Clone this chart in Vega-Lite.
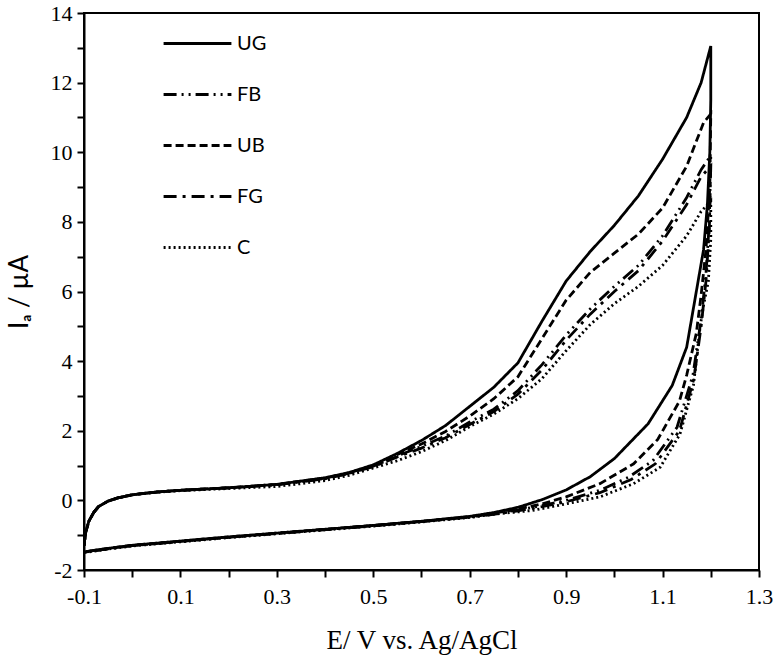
{
  "$schema": "https://vega.github.io/schema/vega-lite/v6.json",
  "width": 675,
  "height": 557,
  "autosize": {"type": "none"},
  "padding": {"left": 84, "top": 13, "right": 15, "bottom": 92},
  "background": "white",
  "config": {
    "view": {"stroke": "black", "strokeWidth": 2},
    "axis": {"grid": false, "domainColor": "black", "domainWidth": 2, "tickColor": "black", "tickWidth": 2, "tickSize": 7, "labelColor": "black", "titleColor": "black", "labelFont": "Liberation Serif", "labelFontSize": 22, "titleFontWeight": "normal"}
  },
  "datasets": {
    "cv": [
      {"s":"UG","i":0,"E":-0.1,"I":-1.3},{"s":"UG","i":1,"E":-0.097,"I":-0.95},{"s":"UG","i":2,"E":-0.09,"I":-0.6},{"s":"UG","i":3,"E":-0.08,"I":-0.35},{"s":"UG","i":4,"E":-0.07,"I":-0.18},{"s":"UG","i":5,"E":-0.05,"I":-0.02},{"s":"UG","i":6,"E":-0.03,"I":0.07},{"s":"UG","i":7,"E":0.0,"I":0.16},{"s":"UG","i":8,"E":0.05,"I":0.24},{"s":"UG","i":9,"E":0.1,"I":0.29},{"s":"UG","i":10,"E":0.2,"I":0.36},{"s":"UG","i":11,"E":0.3,"I":0.46},{"s":"UG","i":12,"E":0.4,"I":0.65},{"s":"UG","i":13,"E":0.45,"I":0.8},{"s":"UG","i":14,"E":0.5,"I":1.02},{"s":"UG","i":15,"E":0.55,"I":1.35},{"s":"UG","i":16,"E":0.6,"I":1.72},{"s":"UG","i":17,"E":0.65,"I":2.15},{"s":"UG","i":18,"E":0.7,"I":2.7},{"s":"UG","i":19,"E":0.75,"I":3.25},{"s":"UG","i":20,"E":0.8,"I":3.95},{"s":"UG","i":21,"E":0.85,"I":5.15},{"s":"UG","i":22,"E":0.9,"I":6.3},{"s":"UG","i":23,"E":0.95,"I":7.15},{"s":"UG","i":24,"E":1.0,"I":7.9},{"s":"UG","i":25,"E":1.05,"I":8.75},{"s":"UG","i":26,"E":1.1,"I":9.8},{"s":"UG","i":27,"E":1.15,"I":11.0},{"s":"UG","i":28,"E":1.18,"I":12.0},{"s":"UG","i":29,"E":1.2,"I":13.05},{"s":"UG","i":30,"E":1.2,"I":11.5},{"s":"UG","i":31,"E":1.198,"I":10.0},{"s":"UG","i":32,"E":1.193,"I":8.5},{"s":"UG","i":33,"E":1.185,"I":7.2},{"s":"UG","i":34,"E":1.175,"I":6.4},{"s":"UG","i":35,"E":1.165,"I":5.6},{"s":"UG","i":36,"E":1.15,"I":4.4},{"s":"UG","i":37,"E":1.12,"I":3.3},{"s":"UG","i":38,"E":1.07,"I":2.2},{"s":"UG","i":39,"E":1.0,"I":1.2},{"s":"UG","i":40,"E":0.95,"I":0.68},{"s":"UG","i":41,"E":0.9,"I":0.3},{"s":"UG","i":42,"E":0.85,"I":0.02},{"s":"UG","i":43,"E":0.8,"I":-0.2},{"s":"UG","i":44,"E":0.75,"I":-0.35},{"s":"UG","i":45,"E":0.7,"I":-0.46},{"s":"UG","i":46,"E":0.6,"I":-0.6},{"s":"UG","i":47,"E":0.5,"I":-0.72},{"s":"UG","i":48,"E":0.4,"I":-0.83},{"s":"UG","i":49,"E":0.3,"I":-0.94},{"s":"UG","i":50,"E":0.2,"I":-1.05},{"s":"UG","i":51,"E":0.1,"I":-1.17},{"s":"UG","i":52,"E":0.0,"I":-1.29},{"s":"UG","i":53,"E":-0.05,"I":-1.38},{"s":"UG","i":54,"E":-0.1,"I":-1.48},

      {"s":"UB","i":0,"E":-0.1,"I":-1.3},{"s":"UB","i":1,"E":-0.097,"I":-0.95},{"s":"UB","i":2,"E":-0.09,"I":-0.6},{"s":"UB","i":3,"E":-0.08,"I":-0.35},{"s":"UB","i":4,"E":-0.07,"I":-0.18},{"s":"UB","i":5,"E":-0.05,"I":-0.02},{"s":"UB","i":6,"E":-0.03,"I":0.07},{"s":"UB","i":7,"E":0.0,"I":0.16},{"s":"UB","i":8,"E":0.05,"I":0.24},{"s":"UB","i":9,"E":0.1,"I":0.29},{"s":"UB","i":10,"E":0.2,"I":0.36},{"s":"UB","i":11,"E":0.3,"I":0.46},{"s":"UB","i":12,"E":0.4,"I":0.64},{"s":"UB","i":13,"E":0.45,"I":0.79},{"s":"UB","i":14,"E":0.5,"I":1.0},{"s":"UB","i":15,"E":0.55,"I":1.32},{"s":"UB","i":16,"E":0.6,"I":1.62},{"s":"UB","i":17,"E":0.65,"I":1.98},{"s":"UB","i":18,"E":0.7,"I":2.42},{"s":"UB","i":19,"E":0.75,"I":2.92},{"s":"UB","i":20,"E":0.8,"I":3.55},{"s":"UB","i":21,"E":0.85,"I":4.65},{"s":"UB","i":22,"E":0.9,"I":5.75},{"s":"UB","i":23,"E":0.95,"I":6.55},{"s":"UB","i":24,"E":1.0,"I":7.1},{"s":"UB","i":25,"E":1.05,"I":7.65},{"s":"UB","i":26,"E":1.1,"I":8.4},{"s":"UB","i":27,"E":1.15,"I":9.6},{"s":"UB","i":28,"E":1.185,"I":10.85},{"s":"UB","i":29,"E":1.2,"I":11.1},{"s":"UB","i":30,"E":1.198,"I":9.0},{"s":"UB","i":31,"E":1.19,"I":7.2},{"s":"UB","i":32,"E":1.18,"I":5.9},{"s":"UB","i":33,"E":1.17,"I":4.8},{"s":"UB","i":34,"E":1.15,"I":3.6},{"s":"UB","i":35,"E":1.135,"I":2.85},{"s":"UB","i":36,"E":1.09,"I":1.75},{"s":"UB","i":37,"E":1.04,"I":1.05},{"s":"UB","i":38,"E":0.97,"I":0.48},{"s":"UB","i":39,"E":0.9,"I":0.1},{"s":"UB","i":40,"E":0.85,"I":-0.1},{"s":"UB","i":41,"E":0.8,"I":-0.25},{"s":"UB","i":42,"E":0.75,"I":-0.37},{"s":"UB","i":43,"E":0.7,"I":-0.47},{"s":"UB","i":44,"E":0.6,"I":-0.6},{"s":"UB","i":45,"E":0.5,"I":-0.72},{"s":"UB","i":46,"E":0.4,"I":-0.83},{"s":"UB","i":47,"E":0.3,"I":-0.94},{"s":"UB","i":48,"E":0.2,"I":-1.05},{"s":"UB","i":49,"E":0.1,"I":-1.17},{"s":"UB","i":50,"E":0.0,"I":-1.29},{"s":"UB","i":51,"E":-0.05,"I":-1.38},{"s":"UB","i":52,"E":-0.1,"I":-1.48},

      {"s":"FB","i":0,"E":-0.1,"I":-1.3},{"s":"FB","i":1,"E":-0.097,"I":-0.95},{"s":"FB","i":2,"E":-0.09,"I":-0.6},{"s":"FB","i":3,"E":-0.08,"I":-0.35},{"s":"FB","i":4,"E":-0.07,"I":-0.18},{"s":"FB","i":5,"E":-0.05,"I":-0.02},{"s":"FB","i":6,"E":-0.03,"I":0.07},{"s":"FB","i":7,"E":0.0,"I":0.16},{"s":"FB","i":8,"E":0.05,"I":0.24},{"s":"FB","i":9,"E":0.1,"I":0.29},{"s":"FB","i":10,"E":0.2,"I":0.36},{"s":"FB","i":11,"E":0.3,"I":0.45},{"s":"FB","i":12,"E":0.4,"I":0.63},{"s":"FB","i":13,"E":0.45,"I":0.78},{"s":"FB","i":14,"E":0.5,"I":0.98},{"s":"FB","i":15,"E":0.55,"I":1.28},{"s":"FB","i":16,"E":0.6,"I":1.55},{"s":"FB","i":17,"E":0.65,"I":1.85},{"s":"FB","i":18,"E":0.7,"I":2.25},{"s":"FB","i":19,"E":0.75,"I":2.62},{"s":"FB","i":20,"E":0.8,"I":3.15},{"s":"FB","i":21,"E":0.85,"I":3.9},{"s":"FB","i":22,"E":0.9,"I":4.75},{"s":"FB","i":23,"E":0.95,"I":5.5},{"s":"FB","i":24,"E":1.0,"I":6.15},{"s":"FB","i":25,"E":1.05,"I":6.75},{"s":"FB","i":26,"E":1.1,"I":7.6},{"s":"FB","i":27,"E":1.15,"I":8.7},{"s":"FB","i":28,"E":1.18,"I":9.5},{"s":"FB","i":29,"E":1.2,"I":9.9},{"s":"FB","i":30,"E":1.197,"I":8.0},{"s":"FB","i":31,"E":1.19,"I":6.5},{"s":"FB","i":32,"E":1.18,"I":5.2},{"s":"FB","i":33,"E":1.163,"I":3.6},{"s":"FB","i":34,"E":1.13,"I":2.1},{"s":"FB","i":35,"E":1.08,"I":1.14},{"s":"FB","i":36,"E":1.03,"I":0.67},{"s":"FB","i":37,"E":0.97,"I":0.29},{"s":"FB","i":38,"E":0.9,"I":0.0},{"s":"FB","i":39,"E":0.85,"I":-0.15},{"s":"FB","i":40,"E":0.8,"I":-0.28},{"s":"FB","i":41,"E":0.75,"I":-0.38},{"s":"FB","i":42,"E":0.7,"I":-0.48},{"s":"FB","i":43,"E":0.6,"I":-0.61},{"s":"FB","i":44,"E":0.5,"I":-0.73},{"s":"FB","i":45,"E":0.4,"I":-0.84},{"s":"FB","i":46,"E":0.3,"I":-0.95},{"s":"FB","i":47,"E":0.2,"I":-1.06},{"s":"FB","i":48,"E":0.1,"I":-1.18},{"s":"FB","i":49,"E":0.0,"I":-1.3},{"s":"FB","i":50,"E":-0.05,"I":-1.39},{"s":"FB","i":51,"E":-0.1,"I":-1.49},

      {"s":"FG","i":0,"E":-0.1,"I":-1.3},{"s":"FG","i":1,"E":-0.097,"I":-0.95},{"s":"FG","i":2,"E":-0.09,"I":-0.6},{"s":"FG","i":3,"E":-0.08,"I":-0.35},{"s":"FG","i":4,"E":-0.07,"I":-0.18},{"s":"FG","i":5,"E":-0.05,"I":-0.02},{"s":"FG","i":6,"E":-0.03,"I":0.07},{"s":"FG","i":7,"E":0.0,"I":0.16},{"s":"FG","i":8,"E":0.05,"I":0.24},{"s":"FG","i":9,"E":0.1,"I":0.29},{"s":"FG","i":10,"E":0.2,"I":0.36},{"s":"FG","i":11,"E":0.3,"I":0.45},{"s":"FG","i":12,"E":0.4,"I":0.62},{"s":"FG","i":13,"E":0.45,"I":0.77},{"s":"FG","i":14,"E":0.5,"I":0.97},{"s":"FG","i":15,"E":0.55,"I":1.25},{"s":"FG","i":16,"E":0.6,"I":1.5},{"s":"FG","i":17,"E":0.65,"I":1.8},{"s":"FG","i":18,"E":0.7,"I":2.18},{"s":"FG","i":19,"E":0.75,"I":2.55},{"s":"FG","i":20,"E":0.8,"I":3.05},{"s":"FG","i":21,"E":0.85,"I":3.75},{"s":"FG","i":22,"E":0.9,"I":4.6},{"s":"FG","i":23,"E":0.95,"I":5.35},{"s":"FG","i":24,"E":1.0,"I":6.0},{"s":"FG","i":25,"E":1.05,"I":6.6},{"s":"FG","i":26,"E":1.1,"I":7.45},{"s":"FG","i":27,"E":1.15,"I":8.5},{"s":"FG","i":28,"E":1.18,"I":9.3},{"s":"FG","i":29,"E":1.2,"I":9.6},{"s":"FG","i":30,"E":1.197,"I":7.8},{"s":"FG","i":31,"E":1.19,"I":6.3},{"s":"FG","i":32,"E":1.18,"I":5.0},{"s":"FG","i":33,"E":1.165,"I":3.5},{"s":"FG","i":34,"E":1.135,"I":2.0},{"s":"FG","i":35,"E":1.085,"I":1.05},{"s":"FG","i":36,"E":1.035,"I":0.6},{"s":"FG","i":37,"E":0.97,"I":0.22},{"s":"FG","i":38,"E":0.9,"I":-0.04},{"s":"FG","i":39,"E":0.85,"I":-0.18},{"s":"FG","i":40,"E":0.8,"I":-0.3},{"s":"FG","i":41,"E":0.75,"I":-0.4},{"s":"FG","i":42,"E":0.7,"I":-0.48},{"s":"FG","i":43,"E":0.6,"I":-0.61},{"s":"FG","i":44,"E":0.5,"I":-0.73},{"s":"FG","i":45,"E":0.4,"I":-0.84},{"s":"FG","i":46,"E":0.3,"I":-0.95},{"s":"FG","i":47,"E":0.2,"I":-1.06},{"s":"FG","i":48,"E":0.1,"I":-1.18},{"s":"FG","i":49,"E":0.0,"I":-1.3},{"s":"FG","i":50,"E":-0.05,"I":-1.39},{"s":"FG","i":51,"E":-0.1,"I":-1.49},

      {"s":"C","i":0,"E":-0.1,"I":-1.3},{"s":"C","i":1,"E":-0.097,"I":-0.95},{"s":"C","i":2,"E":-0.09,"I":-0.6},{"s":"C","i":3,"E":-0.08,"I":-0.35},{"s":"C","i":4,"E":-0.07,"I":-0.18},{"s":"C","i":5,"E":-0.05,"I":-0.02},{"s":"C","i":6,"E":-0.03,"I":0.07},{"s":"C","i":7,"E":0.0,"I":0.16},{"s":"C","i":8,"E":0.05,"I":0.23},{"s":"C","i":9,"E":0.1,"I":0.28},{"s":"C","i":10,"E":0.2,"I":0.34},{"s":"C","i":11,"E":0.3,"I":0.4},{"s":"C","i":12,"E":0.35,"I":0.48},{"s":"C","i":13,"E":0.4,"I":0.57},{"s":"C","i":14,"E":0.45,"I":0.72},{"s":"C","i":15,"E":0.5,"I":0.93},{"s":"C","i":16,"E":0.55,"I":1.14},{"s":"C","i":17,"E":0.6,"I":1.4},{"s":"C","i":18,"E":0.65,"I":1.72},{"s":"C","i":19,"E":0.7,"I":2.12},{"s":"C","i":20,"E":0.75,"I":2.48},{"s":"C","i":21,"E":0.8,"I":2.92},{"s":"C","i":22,"E":0.85,"I":3.5},{"s":"C","i":23,"E":0.9,"I":4.3},{"s":"C","i":24,"E":0.95,"I":5.05},{"s":"C","i":25,"E":1.0,"I":5.65},{"s":"C","i":26,"E":1.05,"I":6.15},{"s":"C","i":27,"E":1.1,"I":6.75},{"s":"C","i":28,"E":1.15,"I":7.6},{"s":"C","i":29,"E":1.18,"I":8.3},{"s":"C","i":30,"E":1.2,"I":8.6},{"s":"C","i":31,"E":1.2,"I":7.5},{"s":"C","i":32,"E":1.195,"I":6.3},{"s":"C","i":33,"E":1.185,"I":5.6},{"s":"C","i":34,"E":1.178,"I":5.0},{"s":"C","i":35,"E":1.164,"I":3.3},{"s":"C","i":36,"E":1.136,"I":1.9},{"s":"C","i":37,"E":1.095,"I":0.95},{"s":"C","i":38,"E":1.04,"I":0.48},{"s":"C","i":39,"E":0.97,"I":0.1},{"s":"C","i":40,"E":0.9,"I":-0.1},{"s":"C","i":41,"E":0.83,"I":-0.29},{"s":"C","i":42,"E":0.75,"I":-0.4},{"s":"C","i":43,"E":0.7,"I":-0.49},{"s":"C","i":44,"E":0.6,"I":-0.62},{"s":"C","i":45,"E":0.5,"I":-0.74},{"s":"C","i":46,"E":0.4,"I":-0.85},{"s":"C","i":47,"E":0.3,"I":-0.96},{"s":"C","i":48,"E":0.2,"I":-1.07},{"s":"C","i":49,"E":0.1,"I":-1.19},{"s":"C","i":50,"E":0.0,"I":-1.31},{"s":"C","i":51,"E":-0.05,"I":-1.4},{"s":"C","i":52,"E":-0.1,"I":-1.5}
    ]
  },
  "data": {"name": "cv"},
  "mark": {"type": "line", "color": "black", "strokeWidth": 2.8, "clip": true},
  "encoding": {
    "x": {
      "field": "E", "type": "quantitative",
      "scale": {"domain": [-0.1, 1.3], "nice": false, "zero": false},
      "axis": {
        "values": [-0.1, 0, 0.1, 0.2, 0.3, 0.4, 0.5, 0.6, 0.7, 0.8, 0.9, 1.0, 1.1, 1.2, 1.3],
        "labelExpr": "abs(round(datum.value*10)) % 2 == 1 ? (datum.value < 0 ? '-' : '') + format(abs(datum.value), '.1f') : ''",
        "labelPadding": 9,
        "labelFlush": false,
        "labelOverlap": false,
        "title": "E/ V vs. Ag/AgCl",
        "titleFont": "Liberation Serif",
        "titleFontSize": 27,
        "titlePadding": 20
      }
    },
    "y": {
      "field": "I", "type": "quantitative",
      "scale": {"domain": [-2, 14], "nice": false, "zero": false},
      "axis": {
        "values": [-2, -1, 0, 1, 2, 3, 4, 5, 6, 7, 8, 9, 10, 11, 12, 13, 14],
        "labelExpr": "datum.value % 2 == 0 ? (datum.value < 0 ? '-' : '') + format(abs(datum.value), 'd') : ''",
        "labelPadding": 5,
        "labelFlush": false,
        "labelOverlap": false,
        "title": "Iₐ / µA",
        "titleFont": "Lato",
        "titleFontSize": 26,
        "titlePadding": 18
      }
    },
    "order": {"field": "i", "type": "quantitative"},
    "strokeDash": {
      "field": "s", "type": "nominal",
      "scale": {"domain": ["UG", "FB", "UB", "FG", "C"], "range": [[1, 0], [13, 5, 2, 5, 2, 5], [8, 4], [13, 6, 3, 6], [2, 3]]},
      "legend": {
        "title": null,
        "orient": "none",
        "legendX": 78,
        "legendY": -5,
        "symbolType": "stroke",
        "symbolSize": 4600,
        "symbolStrokeWidth": 3,
        "symbolStrokeColor": "black",
        "labelFont": "Lato",
        "labelFontSize": 20,
        "labelColor": "black",
        "rowPadding": 5
      }
    }
  }
}
